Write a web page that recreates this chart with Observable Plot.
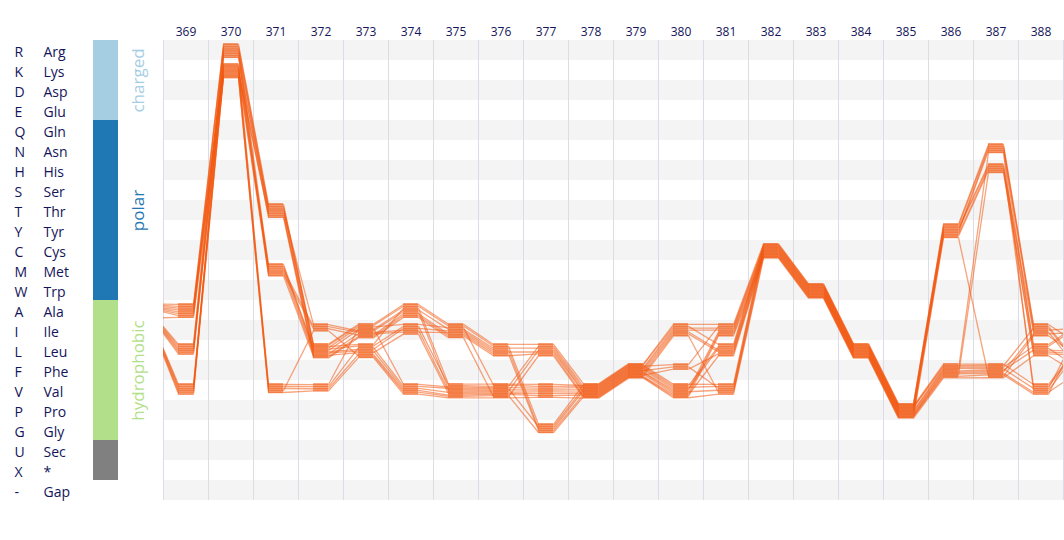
<!DOCTYPE html>
<html>
<head>
<meta charset="utf-8">
<script src="https://cdn.jsdelivr.net/npm/d3@7"></script>
<script src="https://cdn.jsdelivr.net/npm/@observablehq/plot@0.6"></script>
<style>
  html, body { margin: 0; padding: 0; background: #fff; }
  svg { display: block; }
</style>
</head>
<body>
<div id="chart"></div>
<script>
// Alignment positions (368 and 389 are partly outside the visible window)
const positions = [368, 369, 370, 371, 372, 373, 374, 375, 376, 377, 378, 379, 380, 381, 382, 383, 384, 385, 386, 387, 388, 389];
const tickPositions = [369, 370, 371, 372, 373, 374, 375, 376, 377, 378, 379, 380, 381, 382, 383, 384, 385, 386, 387, 388];

// Residue rows, top to bottom
const codes = ["R","K","D","E","Q","N","H","S","T","Y","C","M","W","A","I","L","F","V","P","G","U","X","-"];
const names = ["Arg","Lys","Asp","Glu","Gln","Asn","His","Ser","Thr","Tyr","Cys","Met","Trp","Ala","Ile","Leu","Phe","Val","Pro","Gly","Sec","*","Gap"];

// Residue groups (row ranges)
const groupNames  = ["charged", "polar", "hydrophobic", "other"];
const groupLabels = ["charged", "polar", "hydrophobic", ""];
const groupFirst  = ["R", "Q", "A", "U"];
const groupLast   = ["E", "W", "G", "X"];
const groupColors = ["#a6cee3", "#1f78b4", "#b2df8a", "#808080"];

// Aligned sequences, one character per position 368..389
const sequences = [
  "AARTLIAILLVFIICWLPYNIL",
  "AARTLIAILGVFILCWLPYNIF",
  "AAKTLLAVVVVFVVCWLPYHLI",
  "AAKMLIIIVVVFFICWLPFFVL",
  "AARMLLIVVLVFVLCWLPFFIF",
  "AAKVVIVVVVVFIICWLPFFLI",
  "AAKVVLVVVGVFVVCWLPYHVL",
  "ALRTLIAILLVFIICWLPYNII",
  "ALRTIIAVVVVFVLCWLPYNLF",
  "ALKMLLIILGVFFVCWLPFFVI",
  "ALKMIIIVVLVFILCWLPFNVL",
  "ALKTLLVVVVVFVICWLPYHIF",
  "ALRMLIIILLVFVVCWLPFFLL",
  "AVKTLLIVVVVFILCWLPYHLL",
  "AVKMIIAILGVFVICWLPFFII",
  "AVKVVLVVVVVFFLCWLPFFVF",
  "AVRMLIAILLVFIVCWLPFHLL",
  "AVKVILVVVGVFVLCWLPFFVI",
  "AVRTLIAIVLVFVICWLPYFIL",
  "AAKVVLVVVVVFVVCWLPFFLF"
];

// ---- derived tables for the library ----
const rowIndex = new Map(codes.map((c, i) => [c, i]));
const rows = codes.map((c, i) => ({code: c, name: names[i], i}));
const bandRows = rows.filter(r => r.i % 2 === 0);
const boundaries = [368.5, ...tickPositions.map(p => p + 0.5)];
const groups = groupNames.map((g, k) => ({
  group: g, label: groupLabels[k],
  y1: rowIndex.get(groupFirst[k]), y2: rowIndex.get(groupLast[k]) + 1
}));

const half = 1 / 6;           // half box width, in position units
const topPad = 0.15;          // box top offset inside a row (row units)
const boxH = n => Math.min(15, 2 + n * 1.6) / 20;

const boxes = [];
const slot = new Map();       // key seq|pos -> y
positions.forEach((p, j) => {
  const byRes = d3.group(sequences.map((s, k) => ({k, r: s[j]})), d => d.r);
  for (const [r, members] of byRes) {
    const row = rowIndex.get(r);
    const h = boxH(members.length);
    const top = row + topPad;
    boxes.push({pos: p, res: r, y1: top, y2: top + h});
    members.forEach((m, rank) => slot.set(m.k + "|" + p, top + h * (rank + 0.5) / members.length));
  }
});
const points = [];
sequences.forEach((s, k) => {
  positions.forEach(p => {
    const y = slot.get(k + "|" + p);
    points.push({seq: k, x: p - half, y});
    points.push({seq: k, x: p + half, y});
  });
});

const navy = "#14145a";
const chart = Plot.plot({
  width: 1064,
  height: 540,
  marginLeft: 163,
  marginRight: 1,
  marginTop: 40,
  marginBottom: 40,
  style: {fontFamily: "'Open Sans', 'Noto Sans', sans-serif", background: "#fff"},
  x: {domain: [368.5, 388.5]},
  y: {domain: [0, 23], reverse: true, axis: null},
  color: {domain: groupNames, range: groupColors},
  marks: [
    Plot.rect(bandRows, {y1: d => d.i, y2: d => d.i + 1, fill: "#f4f4f4"}),
    Plot.ruleX(boundaries, {stroke: "#dcdce6", strokeWidth: 1}),
    Plot.rect(groups, {y1: "y1", y2: "y2", fill: "group", insetLeft: -70, insetRight: 945}),
    Plot.text(groups, {y: d => (d.y1 + d.y2) / 2, text: "label", fill: "group", rotate: -90,
      frameAnchor: "left", textAnchor: "middle", dx: -25, fontSize: 17}),
    Plot.text(rows, {y: d => d.i + 0.5, text: "code", frameAnchor: "left", dx: -149, dy: 2,
      textAnchor: "start", fill: navy, fontSize: 14}),
    Plot.text(rows, {y: d => d.i + 0.5, text: "name", frameAnchor: "left", dx: -120, dy: 2,
      textAnchor: "start", fill: navy, fontSize: 14}),
    Plot.axisX({anchor: "top", ticks: tickPositions, tickSize: 0, tickPadding: 5,
      tickFormat: d => String(d), fontSize: 12, color: navy, label: null}),
    Plot.rect(boxes, {x1: d => d.pos - half, x2: d => d.pos + half, y1: "y1", y2: "y2",
      fill: "#f26b2a", fillOpacity: 0.58, clip: true}),
    Plot.line(points, {x: "x", y: "y", z: "seq", stroke: "#f25a12", strokeOpacity: 0.55,
      strokeWidth: 1.3, clip: true})
  ]
});
document.getElementById("chart").appendChild(chart);
</script>
</body>
</html>
